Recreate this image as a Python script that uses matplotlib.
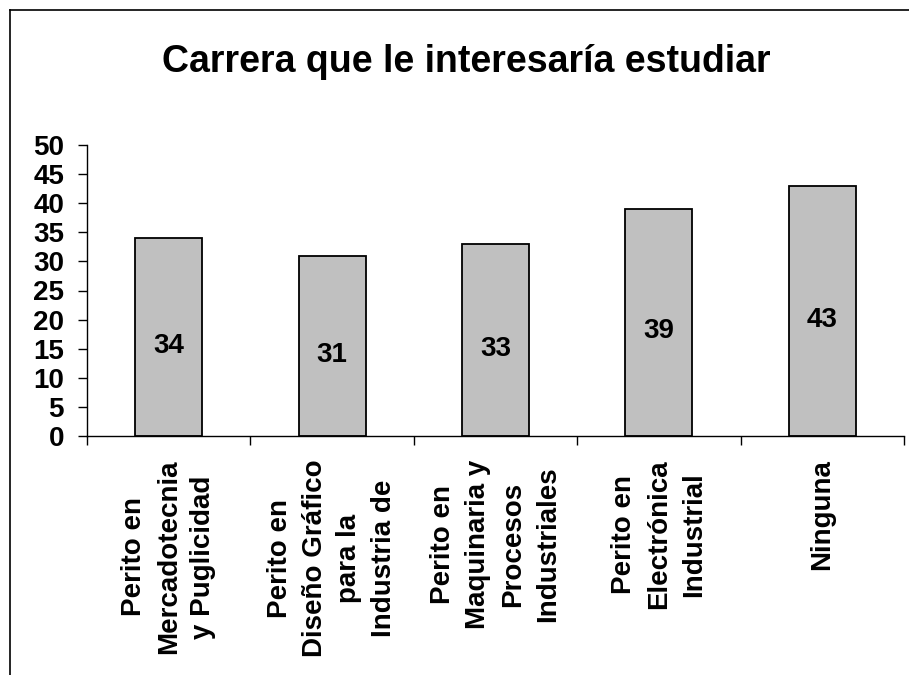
import matplotlib
matplotlib.use("Agg")
import matplotlib.pyplot as plt
from matplotlib.lines import Line2D
import numpy as np

categories = [
    "Perito en\nMercadotecnia\ny Puglicidad",
    "Perito en\nDiseño Gráfico\npara la\nIndustria de",
    "Perito en\nMaquinaria y\nProcesos\nIndustriales",
    "Perito en\nElectrónica\nIndustrial",
    "Ninguna",
]
values = [34, 31, 33, 39, 43]
yticks = [0, 5, 10, 15, 20, 25, 30, 35, 40, 45, 50]
title = "Carrera que le interesaría estudiar"

plt.rcParams['font.family'] = ['Liberation Sans', 'DejaVu Sans']
plt.rcParams['font.weight'] = 'bold'

fig = plt.figure(figsize=(9.09, 6.75), dpi=100)
ax = fig.add_axes([87/909, 1-436/675, (904-87)/909, (436-145)/675])

x = np.arange(len(values))
ax.bar(x, values, width=0.41, color='#C0C0C0', edgecolor='black', linewidth=1.3, zorder=2)
for xi, v in zip(x, values):
    ax.text(xi, v/2 - 1.5, str(v), ha='center', va='center', fontsize=20, fontweight='bold')

ax.set_xlim(-0.5, len(values)-0.5)
ax.set_ylim(0, 50)
ax.set_yticks(yticks)
ax.set_yticklabels([str(t) for t in yticks], fontsize=20, fontweight='bold')
ax.tick_params(axis='y', direction='out', length=6.5, width=1, pad=10)

ax.set_xticks(np.arange(len(values)+1) - 0.5)
ax.set_xticklabels([])
ax.tick_params(axis='x', which='major', direction='out', length=6.5, width=1)
ax.set_xticks(x, minor=True)
ax.set_xticklabels(categories, minor=True, rotation=90, fontsize=20, fontweight='bold',
                   multialignment='center', linespacing=1.44)
ax.tick_params(axis='x', which='minor', length=0, pad=17)

for s in ['top', 'right']:
    ax.spines[s].set_visible(False)
for s in ['left', 'bottom']:
    ax.spines[s].set_linewidth(1)

fig.text(466/909, 1-62/675, title, ha='center', va='center', fontsize=27, fontweight='bold')

fig.add_artist(Line2D([10/909, 1], [1-10/675, 1-10/675], color='black', lw=1.2, transform=fig.transFigure))
fig.add_artist(Line2D([10/909, 10/909], [0, 1-10/675], color='black', lw=1.2, transform=fig.transFigure))

fig.savefig("out.png", dpi=100)
